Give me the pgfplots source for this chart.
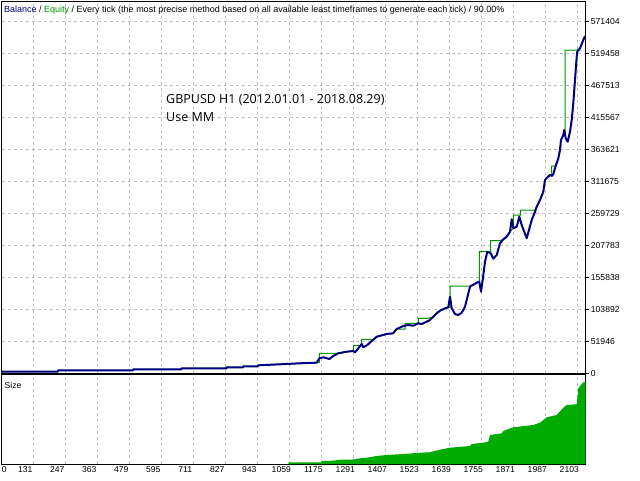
\documentclass[border=0pt]{standalone}
\usepackage{pgfplots}
\pgfplotsset{compat=1.18}
\usepackage{fontspec}
\setmainfont{Liberation Sans}
\newfontfamily\annfont{Open Sans}
\definecolor{balblue}{RGB}{0,0,128}
\definecolor{eqgreen}{RGB}{0,150,0}
\definecolor{sizegreen}{RGB}{0,170,0}
\definecolor{gridgray}{RGB}{190,190,190}
\begin{document}
\begin{tikzpicture}[x=1pt,y=1pt]
\useasboundingbox (0,0) rectangle (640,480);
\pgfplotsset{
  mtgrid/.style={
    scale only axis,
    xmin=16.5, xmax=2133.5,
    axis line style={black, line width=1pt},
    grid style={gridgray, line width=0.7pt, dash pattern=on 3pt off 3pt},
    xtick={131,247,363,479,595,711,827,943,1059,1175,1291,1407,1523,1639,1755,1871,1987,2103},
    xmajorgrids,
  }
}
% ---------- main balance / equity panel ----------
\begin{axis}[mtgrid,
  at={(1.7pt,106.7pt)}, anchor=south west,
  width=584pt, height=371.3pt,
  ymin=0, ymax=603500,
  ytick={0,51946,103892,155838,207783,259729,311675,363621,415567,467513,519458,571404},
  yticklabels={0,51946,103892,155838,207783,259729,311675,363621,415567,467513,519458,571404},
  ymajorgrids,
  ytick pos=right,
  ytick style={black, line width=0.6pt},
  major tick length=3pt,
  tick align=outside,
  xticklabels={},
  xtick style={draw=none},
  yticklabel style={font=\fontsize{8.6}{10}\selectfont, anchor=west, inner sep=0pt, xshift=2pt},
  clip=true,
]
% Equity (green, thin)
\addplot[eqgreen, line width=1pt] coordinates {
(16.5,2900)(220.6,2900)(221.7,4876)(492.5,4876)(493.6,6501)(668.3,6501)(669,8127)(831.4,8127)
(832.1,9752)(891.2,9752)(892.3,11377)(945.6,11377)(946.7,13002)(1025.3,14628)(1097.8,16253)(1158.4,17228)
(1167.8,17553)(1167.8,32506)(1236.7,32506)(1267.1,35106)(1291.1,36244)(1291.1,44858)(1321.5,44858)
(1321.5,55260)(1363.5,55260)(1375.9,59486)(1412.1,63874)(1436.1,65012)(1448.4,72001)(1478.5,72001)
(1478.5,81265)(1526.7,81265)(1526.7,89392)(1562.9,89392)(1581.1,91992)(1593.4,97518)(1605.3,101744)
(1623.5,105645)(1635.4,107270)(1641.6,107270)(1641.6,141887)(1714.1,141887)(1738.4,147252)(1747.8,148877)
(1747.8,197636)(1789.2,197636)(1789.2,215515)(1822.8,215515)(1834.8,217790)(1847.2,222016)(1859.1,230143)
(1871.1,235669)(1871.1,257283)(1897.9,257283)(1897.9,265411)(1949.7,265411)(1955.9,270775)(1967.8,281664)
(1979.8,295154)(1986.0,314171)(1993.2,317909)(2004.1,322297)(2010.2,322297)(2010.2,336925)(2022.2,336925)
(2034.2,349440)(2040.3,362930)(2044.0,379183)(2052.3,387310)(2058.5,393000)(2058.5,525459)(2103.0,525459)
(2112.8,528223)(2124.8,541712)(2131.0,548213)
};
% Balance (dark blue, thick)
\addplot[balblue, line width=2pt, line join=round] coordinates {
(16.5,2900)(220.6,2900)(221.7,4876)(492.5,4876)(493.6,6501)(668.3,6501)(669,8127)(831.4,8127)
(832.1,9752)(891.2,9752)(892.3,11377)(945.6,11377)(946.7,13002)(1025.3,14628)(1097.8,16253)(1158.4,17228)
(1167.8,24380)(1182.3,26005)(1204.1,23242)(1218.6,28118)(1236.7,32506)(1267.1,35106)(1291.1,36244)
(1297.2,34131)(1309.2,40633)(1321.5,47621)(1327.3,42258)(1341.8,45996)(1375.9,59486)(1412.1,63874)
(1436.1,65012)(1442.2,69238)(1448.4,72001)(1472.3,76877)(1490.4,78502)(1508.6,77364)(1526.7,81265)
(1539.0,80127)(1557.1,83865)(1569.1,86628)(1581.1,91992)(1593.4,97518)(1605.3,101744)(1623.5,105645)
(1635.4,107270)(1641.6,124498)(1647.8,105645)(1659.7,96380)(1671.7,94755)(1684.0,98493)(1696.0,108245)
(1714.1,140751)(1738.4,147252)(1747.8,148877)(1754.0,132624)(1760.1,151640)(1768.5,181383)(1776.8,197636)
(1789.2,195036)(1798.5,186259)(1810.9,192273)(1822.8,211289)(1834.8,217790)(1847.2,222016)(1859.1,230143)
(1865.3,250296)(1871.1,235669)(1883.4,238269)(1892.8,254522)(1901.5,241032)(1919.6,219416)(1937.8,249158)
(1949.7,262648)(1955.9,270775)(1967.8,281664)(1979.8,295154)(1986.0,314171)(1993.2,317909)(2004.1,322297)
(2011.3,320672)(2016.1,323922)(2022.2,333187)(2034.2,349440)(2040.3,362930)(2044.0,379183)(2052.3,387310)
(2055.9,395436)(2061.0,381946)(2068.3,376419)(2076.6,392672)(2082.8,411688)(2088.5,438831)(2094.7,476701)
(2100.9,514570)(2103.0,522696)(2112.8,528223)(2124.8,541712)(2131.0,548213)
};
\end{axis}
% ---------- size panel ----------
\begin{axis}[mtgrid,
  at={(1.7pt,16pt)}, anchor=south west,
  width=584pt, height=89pt,
  ymin=0, ymax=8.9,
  ytick=\empty,
  xtick style={draw=none},
  xticklabels={131,247,363,479,595,711,827,943,1059,1175,1291,1407,1523,1639,1755,1871,1987,2103},
  extra x ticks={54.9},
  extra x tick labels={0},
  extra x tick style={grid=none},
  xticklabel style={font=\fontsize{8.6}{10}\selectfont, xshift=-8pt, inner sep=0pt, yshift=-2pt},
]
\addplot[fill=sizegreen, draw=none] coordinates {
(1055.4,0)(1055.4,0.17)(1176.5,0.17)(1176.5,0.3)(1217.5,0.33)(1242.8,0.43)(1285.3,0.43)(1315.3,0.57)
(1339.6,0.63)(1375.9,0.8)(1412.1,0.9)(1472.3,1.0)(1520.9,1.1)(1557.1,1.17)(1568,1.17)(1605.3,1.43)
(1641.6,1.63)(1714.1,1.8)(1720.3,2.0)(1762.3,2.13)(1780.4,2.23)(1786.6,2.9)(1829,3.07)(1834.8,3.3)
(1871.1,3.67)(1943.6,3.9)(1967.8,4.13)(1992.1,4.67)(2028.4,4.9)(2052.3,5.63)(2064.6,5.9)(2100.9,5.97)
(2106.7,7.57)(2124.8,8.17)(2133.5,8.2)(2133.5,0)
} \closedcycle;
\end{axis}
\node[anchor=west, inner sep=0pt, font=\fontsize{8.6}{10}\selectfont] at (4.5,95) {Size};
\node[anchor=west, inner sep=0pt, font=\fontsize{9}{10}\selectfont] at (4,470)
  {\textcolor{balblue}{Balance} / \textcolor{eqgreen}{Equity} / Every tick (the most precise method based on all available least timeframes to generate each tick) / 90.00\%};
\node[anchor=base west, inner sep=0pt, font=\annfont\fontsize{12.5}{14}\selectfont] at (166,376) {GBPUSD H1 (2012.01.01 - 2018.08.29)};
\node[anchor=base west, inner sep=0pt, font=\annfont\fontsize{12.5}{14}\selectfont] at (166,358.3) {Use MM};
\end{tikzpicture}
\end{document}
